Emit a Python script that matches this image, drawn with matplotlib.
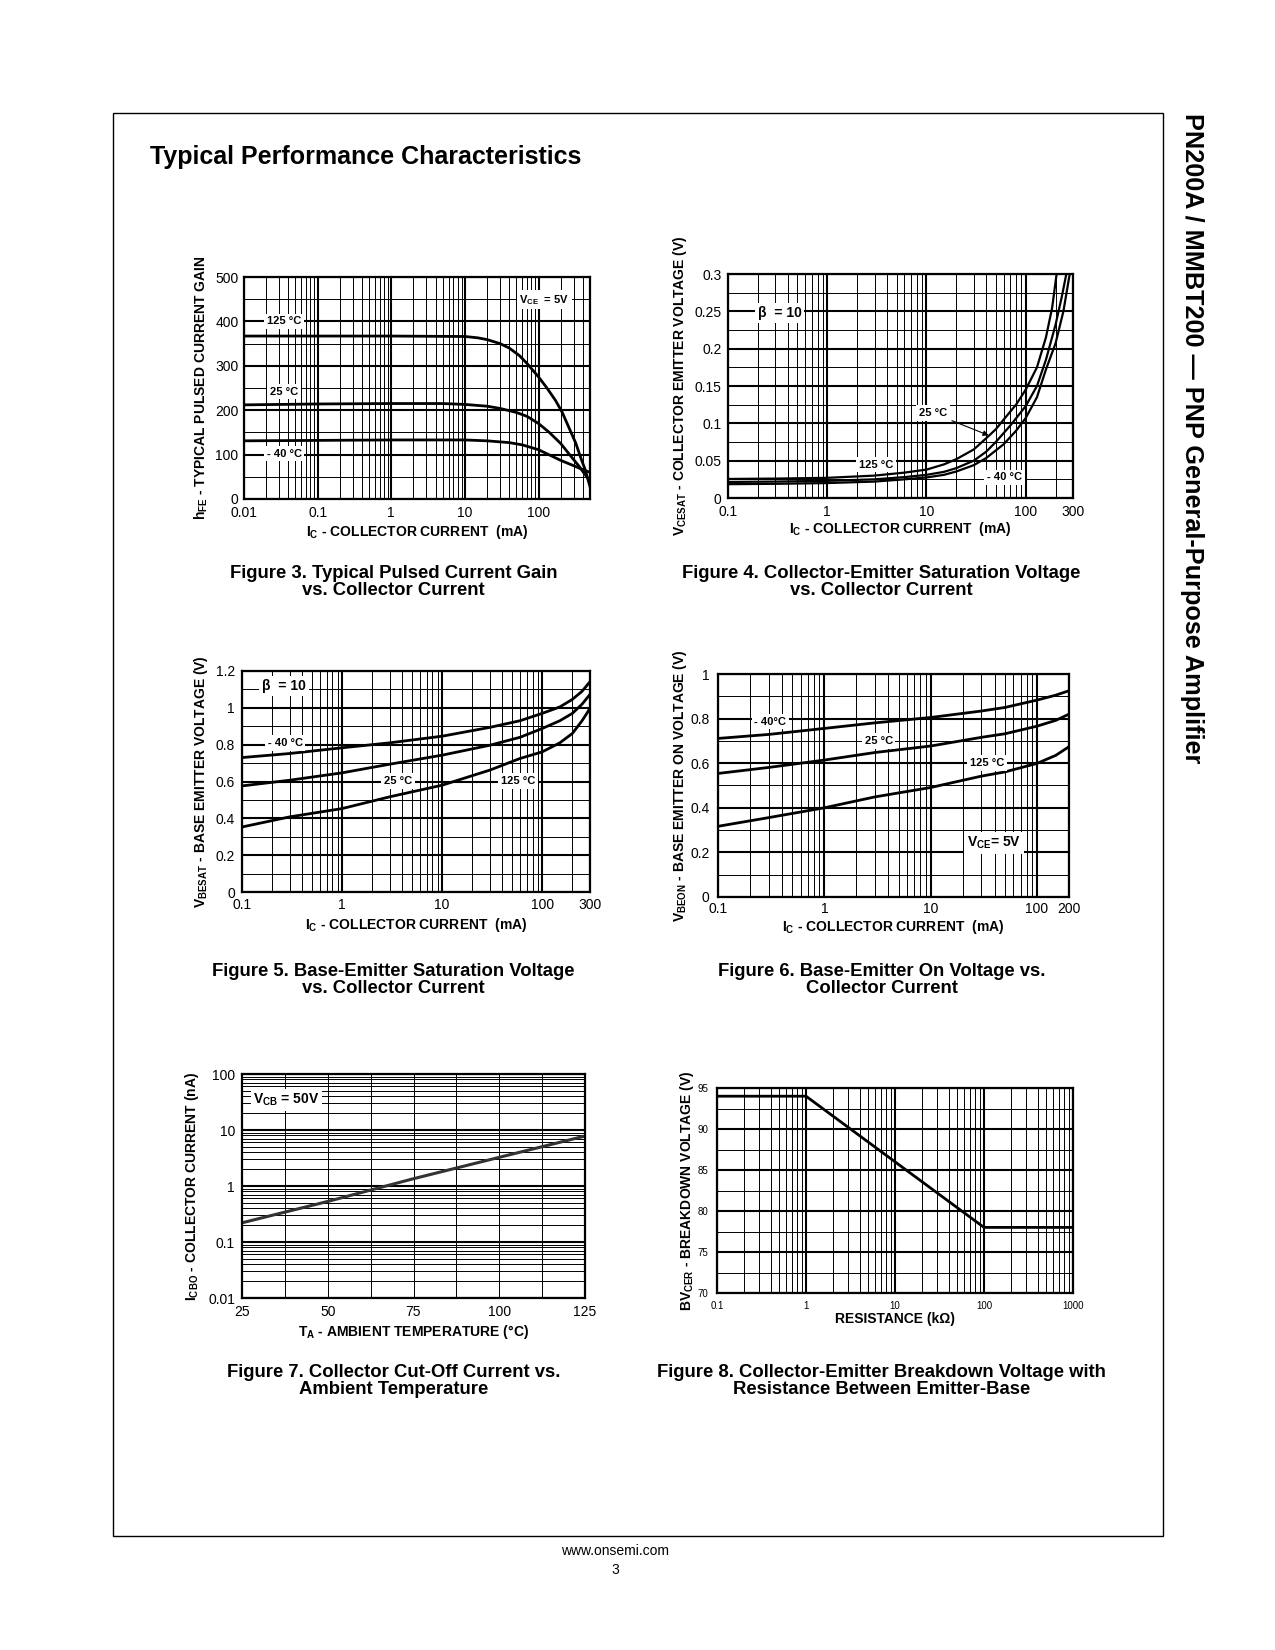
import numpy as np
import matplotlib
matplotlib.use('Agg')
import matplotlib.pyplot as plt
from matplotlib.ticker import FixedLocator, FixedFormatter, NullFormatter, LogLocator, MultipleLocator

W, H = 1275, 1650
plt.rcParams['font.family'] = ['Liberation Sans', 'DejaVu Sans']
plt.rcParams['mathtext.fontset'] = 'custom'
plt.rcParams['mathtext.rm'] = 'Liberation Sans:bold'
plt.rcParams['mathtext.it'] = 'Liberation Sans:bold:italic'
plt.rcParams['mathtext.bf'] = 'Liberation Sans:bold'

# Figure 3: hFE vs Ic (mA)
f3_ic_125 = [0.01, 0.1, 1, 10, 15, 20, 30, 40, 55, 70, 100, 130, 170, 210, 260, 320, 380, 430, 500]
f3_h_125 = [367, 367, 367, 366, 363, 359, 350, 340, 323, 305, 275, 250, 222, 195, 160, 126, 90, 66, 28]
f3_ic_25 = [0.01, 0.1, 1, 5, 10, 20, 30, 50, 70, 100, 140, 200, 270, 350, 420, 500]
f3_h_25 = [212, 214, 215, 215, 213, 209, 204, 195, 186, 170, 150, 125, 98, 75, 57, 40]
f3_ic_m40 = [0.01, 0.1, 1, 10, 20, 40, 60, 100, 150, 200, 300, 400, 500]
f3_h_m40 = [131, 132, 133, 133, 131, 127, 122, 111, 97, 87, 75, 66, 60]

# Figure 4: VCEsat vs Ic (mA)
f4_ic_125 = [0.1, 0.3, 1, 3, 6, 10, 15, 20, 30, 40, 50, 60, 80, 100, 130, 160, 185, 205]
f4_v_125 = [0.0255, 0.026, 0.027, 0.030, 0.034, 0.038, 0.045, 0.052, 0.065, 0.080, 0.092, 0.105, 0.125, 0.145, 0.175, 0.215, 0.255, 0.30]
f4_ic_25 = [0.1, 0.3, 1, 3, 6, 10, 15, 20, 30, 40, 50, 70, 100, 130, 160, 200, 230, 257]
f4_v_25 = [0.0215, 0.022, 0.023, 0.025, 0.028, 0.031, 0.035, 0.040, 0.050, 0.062, 0.075, 0.097, 0.123, 0.150, 0.185, 0.232, 0.268, 0.30]
f4_ic_m40 = [0.1, 0.3, 1, 3, 6, 10, 15, 20, 30, 40, 60, 80, 100, 130, 160, 200, 240, 278]
f4_v_m40 = [0.0185, 0.019, 0.020, 0.022, 0.025, 0.0275, 0.031, 0.0355, 0.044, 0.0535, 0.072, 0.090, 0.107, 0.135, 0.172, 0.207, 0.25, 0.30]

# Figure 5: VBEsat vs Ic (mA)
f5_ic = [0.1, 0.3, 1, 3, 10, 30, 60, 100, 150, 200, 250, 300]
f5_v_m40 = [0.73, 0.752, 0.783, 0.81, 0.846, 0.894, 0.93, 0.97, 1.005, 1.046, 1.09, 1.142]
f5_v_25 = [0.576, 0.607, 0.647, 0.694, 0.743, 0.797, 0.84, 0.888, 0.93, 0.97, 1.02, 1.073]
f5_v_125 = [0.353, 0.408, 0.453, 0.517, 0.58, 0.662, 0.725, 0.761, 0.81, 0.861, 0.93, 0.997]

# Figure 6: VBEon vs Ic (mA)
f6_ic = [0.1, 0.3, 1, 3, 10, 30, 50, 100, 150, 200]
f6_v_m40 = [0.711, 0.729, 0.756, 0.781, 0.805, 0.834, 0.850, 0.883, 0.905, 0.925]
f6_v_25 = [0.554, 0.581, 0.614, 0.648, 0.677, 0.716, 0.732, 0.766, 0.792, 0.82]
f6_v_125 = [0.317, 0.356, 0.40, 0.449, 0.491, 0.542, 0.561, 0.599, 0.635, 0.674]

# Figure 7: ICBO (nA) vs TA
f7_ta = [25, 50, 75, 100, 125]
f7_icbo = [0.22, 0.53, 1.35, 3.25, 7.8]

# Figure 8: BVCER vs R (kOhm)
f8_r = [0.1, 1, 100, 1000]
f8_bv = [94, 94, 78, 78]

fig = plt.figure(figsize=(12.75, 16.5), dpi=100)


def add_ax(rect):
    x0, y0, x1, y1 = rect
    return fig.add_axes([x0 / W, 1 - y1 / H, (x1 - x0) / W, (y1 - y0) / H])


def style(ax, xpad, ypad, size=10):
    for s in ax.spines.values():
        s.set_linewidth(1.6)
        s.set_color('black')
    ax.set_axisbelow(True)
    ax.grid(which='major', color='black', lw=1.5)
    ax.grid(which='minor', color='black', lw=0.7)
    ax.tick_params(which='both', length=0, labelsize=size)
    ax.tick_params(axis='x', pad=xpad)
    ax.tick_params(axis='y', pad=ypad)


def log_x(ax, lo, hi, ticks, labels):
    ax.set_xscale('log')
    ax.set_xlim(lo, hi)
    ax.xaxis.set_major_locator(FixedLocator(ticks))
    ax.xaxis.set_major_formatter(FixedFormatter(labels))
    ax.xaxis.set_minor_locator(LogLocator(base=10, subs=np.arange(2, 10), numticks=30))
    ax.xaxis.set_minor_formatter(NullFormatter())


def lin_y(ax, lo, hi, step, minor, labels):
    ax.set_ylim(lo, hi)
    ax.yaxis.set_major_locator(FixedLocator(np.arange(lo, hi + step / 2, step)))
    ax.yaxis.set_major_formatter(FixedFormatter(labels))
    ax.yaxis.set_minor_locator(MultipleLocator(minor))


def labels(ax, rect, xlabel, xl_y, ylabel, yl_x, size=10):
    x0, y0, x1, y1 = rect
    ax.set_xlabel(xlabel, fontsize=size, fontweight='bold', va='center')
    ax.xaxis.set_label_coords(0.5, (y1 - xl_y) / (y1 - y0))
    ax.set_ylabel(ylabel, fontsize=size, fontweight='bold', va='center')
    ax.yaxis.set_label_coords((yl_x - x0) / (x1 - x0), 0.5)


def tag(ax, x, y, s, size=8):
    ax.text(x, y, s, fontsize=size, fontweight='bold', ha='center', va='center',
            bbox=dict(fc='white', ec='none', pad=2), zorder=5)


LW = 2.0
IC_LABEL = r'I$_{\mathrm{C}}$ - COLLECTOR CURRENT  (mA)'

# ---- Figure 3
r1 = (244, 277, 590, 499)
ax1 = add_ax(r1)
ax1.plot(f3_ic_125, f3_h_125, color='black', lw=LW)
ax1.plot(f3_ic_25, f3_h_25, color='black', lw=LW)
ax1.plot(f3_ic_m40, f3_h_m40, color='black', lw=LW)
log_x(ax1, 0.01, 500, [0.01, 0.1, 1, 10, 100], ['0.01', '0.1', '1', '10', '100'])
lin_y(ax1, 0, 500, 100, 50, ['0', '100', '200', '300', '400', '500'])
style(ax1, 5, 4)
labels(ax1, r1, IC_LABEL, 532, r'h$_{\mathrm{FE}}$ - TYPICAL PULSED CURRENT GAIN', 201)
tag(ax1, 0.035, 400, '125 °C', 8)
tag(ax1, 0.035, 242, '25 °C', 8)
tag(ax1, 0.035, 102, '- 40 °C', 8)
tag(ax1, 120, 449, r'V$_{\mathrm{CE}}$  = 5V', 8)

# ---- Figure 4
r2 = (728, 274, 1073, 498)
ax2 = add_ax(r2)
ax2.plot(f4_ic_125, f4_v_125, color='black', lw=LW - 0.4)
ax2.plot(f4_ic_25, f4_v_25, color='black', lw=LW - 0.4)
ax2.plot(f4_ic_m40, f4_v_m40, color='black', lw=LW - 0.4)
log_x(ax2, 0.1, 300, [0.1, 1, 10, 100, 300], ['0.1', '1', '10', '100', '300'])
lin_y(ax2, 0, 0.3, 0.05, 0.025, ['0', '0.05', '0.1', '0.15', '0.2', '0.25', '0.3'])
style(ax2, 5, 4.5)
labels(ax2, r2, IC_LABEL, 529, r'V$_{\mathrm{CESAT}}$ - COLLECTOR EMITTER VOLTAGE (V)', 680)
tag(ax2, 0.33, 0.248, 'β  = 10', 10)
tag(ax2, 11.6, 0.114, '25 °C', 8)
tag(ax2, 3.1, 0.0446, '125 °C', 8)
tag(ax2, 61, 0.0276, '- 40 °C', 8)
ax2.annotate('', xy=(45, 0.0825), xytext=(17, 0.105),
             arrowprops=dict(arrowstyle='-|>', lw=0.8, color='black', mutation_scale=8))

# ---- Figure 5
r3 = (242, 671, 590, 892)
ax3 = add_ax(r3)
ax3.plot(f5_ic, f5_v_m40, color='black', lw=LW)
ax3.plot(f5_ic, f5_v_25, color='black', lw=LW)
ax3.plot(f5_ic, f5_v_125, color='black', lw=LW)
log_x(ax3, 0.1, 300, [0.1, 1, 10, 100, 300], ['0.1', '1', '10', '100', '300'])
lin_y(ax3, 0, 1.2, 0.2, 0.1, ['0', '0.2', '0.4', '0.6', '0.8', '1', '1.2'])
style(ax3, 4, 5)
labels(ax3, r3, IC_LABEL, 925, r'V$_{\mathrm{BESAT}}$ - BASE EMITTER VOLTAGE (V)', 201)
tag(ax3, 0.263, 1.118, 'β  = 10', 10)
tag(ax3, 0.27, 0.81, '- 40 °C', 8)
tag(ax3, 3.63, 0.604, '25 °C', 8)
tag(ax3, 57.5, 0.604, '125 °C', 8)

# ---- Figure 6
r4 = (718, 674, 1069, 897)
ax4 = add_ax(r4)
ax4.plot(f6_ic, f6_v_m40, color='black', lw=LW)
ax4.plot(f6_ic, f6_v_25, color='black', lw=LW)
ax4.plot(f6_ic, f6_v_125, color='black', lw=LW)
log_x(ax4, 0.1, 200, [0.1, 1, 10, 100, 200], ['0.1', '1', '10', '100', '200'])
lin_y(ax4, 0, 1.0, 0.2, 0.1, ['0', '0.2', '0.4', '0.6', '0.8', '1'])
style(ax4, 3.5, 6)
labels(ax4, r4, IC_LABEL, 927, r'V$_{\mathrm{BEON}}$ - BASE EMITTER ON VOLTAGE (V)', 680)
tag(ax4, 0.31, 0.786, '- 40°C', 8)
tag(ax4, 3.24, 0.70, '25 °C', 8)
tag(ax4, 34, 0.602, '125 °C', 8)
tag(ax4, 39.5, 0.243, r'V$_{\mathrm{CE}}$= 5V', 10)

# ---- Figure 7
r5 = (242, 1074, 585, 1298)
ax5 = add_ax(r5)
ax5.plot(f7_ta, f7_icbo, color='#333333', lw=2.2)
ax5.set_xlim(25, 125)
ax5.xaxis.set_major_locator(FixedLocator([25, 50, 75, 100, 125]))
ax5.xaxis.set_minor_locator(MultipleLocator(12.5))
ax5.set_yscale('log')
ax5.set_ylim(0.01, 100)
ax5.yaxis.set_major_locator(FixedLocator([0.01, 0.1, 1, 10, 100]))
ax5.yaxis.set_major_formatter(FixedFormatter(['0.01', '0.1', '1', '10', '100']))
ax5.yaxis.set_minor_locator(LogLocator(base=10, subs=np.arange(2, 10), numticks=30))
ax5.yaxis.set_minor_formatter(NullFormatter())
style(ax5, 5, 5)
ax5.grid(which='major', axis='x', lw=0.7)
labels(ax5, r5, r'T$_{\mathrm{A}}$ - AMBIENT TEMPERATURE (°C)', 1332,
       r'I$_{\mathrm{CBO}}$ - COLLECTOR CURRENT (nA)', 192)
tag(ax5, 38, 35, r'V$_{\mathrm{CB}}$ = 50V', 10)

# ---- Figure 8
r6 = (717, 1088, 1073, 1293)
ax6 = add_ax(r6)
ax6.plot(f8_r, f8_bv, color='black', lw=LW)
log_x(ax6, 0.1, 1000, [0.1, 1, 10, 100, 1000], ['0.1', '1', '10', '100', '1000'])
lin_y(ax6, 70, 95, 5, 2.5, ['70', '75', '80', '85', '90', '95'])
style(ax6, 5.5, 6, size=7)
labels(ax6, r6, 'RESISTANCE (kΩ)', 1319, r'BV$_{\mathrm{CER}}$ - BREAKDOWN VOLTAGE (V)', 687)

# ---- page text
def ftext(x, y, s, **kw):
    fig.text(x / W, 1 - y / H, s, **kw)


ftext(150, 157, 'Typical Performance Characteristics', fontsize=18, fontweight='bold',
      ha='left', va='center')
ftext(1192, 113, 'PN200A / MMBT200 — PNP General-Purpose Amplifier', fontsize=18.2,
      fontweight='bold', rotation=-90, ha='center', va='top')

caps = [
    (393.5, 582, 'Figure 3. Typical Pulsed Current Gain\nvs. Collector Current'),
    (881.6, 582, 'Figure 4. Collector-Emitter Saturation Voltage\nvs. Collector Current'),
    (393.5, 980, 'Figure 5. Base-Emitter Saturation Voltage\nvs. Collector Current'),
    (881.6, 980, 'Figure 6. Base-Emitter On Voltage vs.\nCollector Current'),
    (393.5, 1381, 'Figure 7. Collector Cut-Off Current vs.\nAmbient Temperature'),
    (881.6, 1381, 'Figure 8. Collector-Emitter Breakdown Voltage with\nResistance Between Emitter-Base'),
]
for x, y, s in caps:
    ftext(x, y, s, fontsize=13.3, fontweight='bold', ha='center', va='center', linespacing=1.05)

ftext(615.5, 1551, 'www.onsemi.com', fontsize=10, ha='center', va='center')
ftext(615.5, 1570, '3', fontsize=10, ha='center', va='center')

fig.add_artist(plt.Rectangle((112.6 / W, 1 - 1536 / H), (1162.5 - 112.6) / W, (1536 - 112.6) / H,
                             fill=False, lw=1.0, color='black', transform=fig.transFigure))

fig.savefig('out.png', dpi=100)
